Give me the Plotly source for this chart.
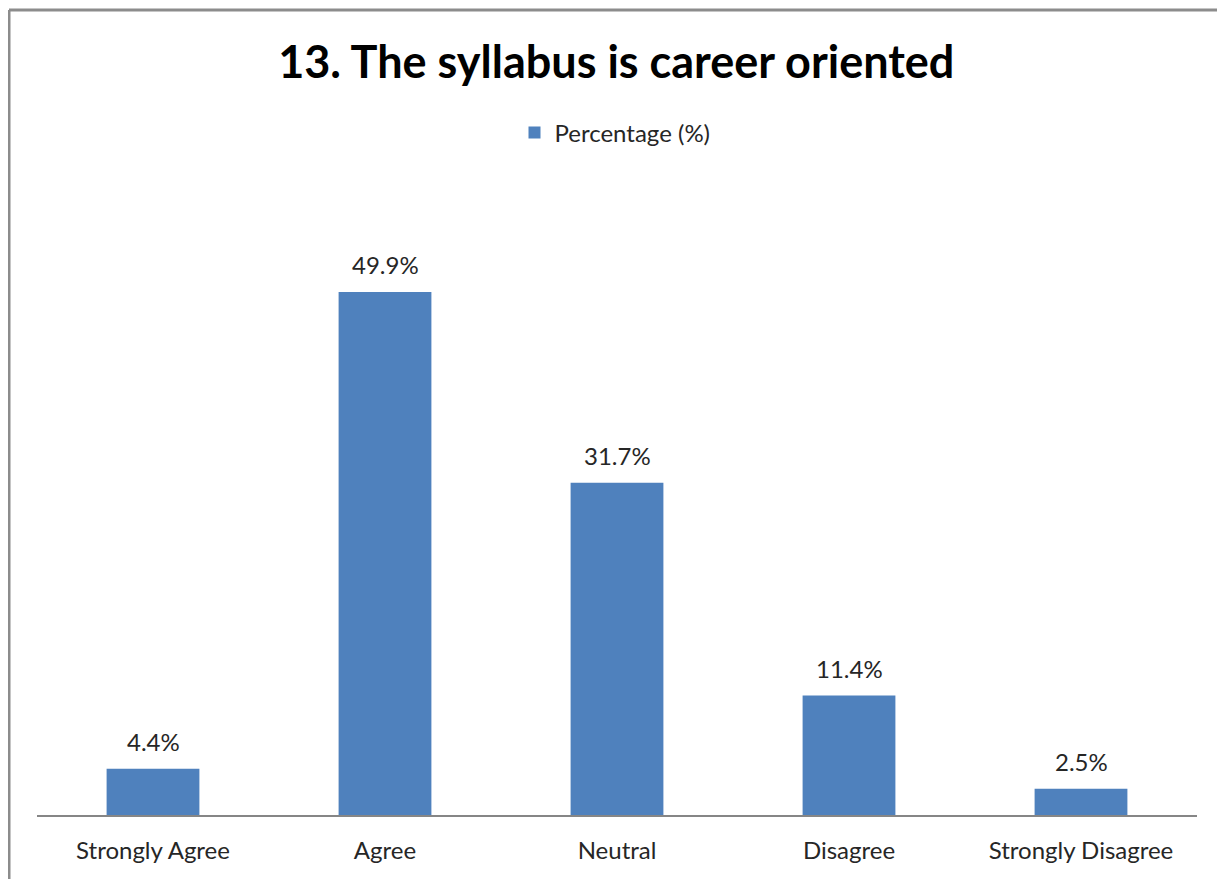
import plotly.graph_objects as go

categories = ["Strongly Agree", "Agree", "Neutral", "Disagree", "Strongly Disagree"]
percentages = [4.4, 49.9, 31.7, 11.4, 2.5]
labels = ["4.4%", "49.9%", "31.7%", "11.4%", "2.5%"]

# page body has an 8px margin, so work in figure pixels (= screen - 8)
W, H = 1225, 879
left, right, top, bottom = 29, 36, 178, 72
pw = W - left - right
ph = H - top - bottom

def px_x(x):
    return (x - left) / pw

def px_y(y):
    return (H - bottom - y) / ph

fig = go.Figure()
fig.add_trace(go.Bar(x=categories, y=percentages, name="Percentage (%)",
                     marker=dict(color="#4F81BD", line=dict(width=0))))

for c, v, t in zip(categories, percentages, labels):
    fig.add_annotation(x=c, y=v, text=t, showarrow=False, yanchor="middle",
                       yshift=27, font=dict(size=24, color="#262626"))

# chart frame
fig.add_shape(type="line", xref="paper", yref="paper",
              x0=px_x(1), x1=px_x(1216), y0=px_y(2), y1=px_y(2),
              line=dict(color="#8C8C8C", width=3))
fig.add_shape(type="line", xref="paper", yref="paper",
              x0=px_x(1), x1=px_x(1), y0=px_y(2), y1=px_y(890),
              line=dict(color="#8C8C8C", width=3))
fig.add_shape(type="line", xref="paper", yref="paper",
              x0=px_x(1216), x1=px_x(1216), y0=px_y(2), y1=px_y(890),
              line=dict(color="#BFBFBF", width=1))

fig.update_layout(
    width=W, height=H,
    margin=dict(l=left, r=right, t=top, b=bottom),
    paper_bgcolor="white", plot_bgcolor="white",
    font=dict(family="Lato", color="#262626"),
    title=dict(text="<b>13. The syllabus is career oriented</b>",
               x=px_x(605), xanchor="center", y=1 - 54 / H, yanchor="middle",
               font=dict(size=45, color="black")),
    showlegend=True,
    legend=dict(orientation="h", x=px_x(607), xanchor="center",
                y=px_y(125), yanchor="middle", font=dict(size=24),
                itemwidth=30),
    bargap=0.6,
)
fig.update_xaxes(showline=True, linecolor="#868686", linewidth=1.5,
                 ticks="", tickfont=dict(size=24, color="#262626"),
                 ticklabelstandoff=13, showgrid=False)
fig.update_yaxes(range=[0, 60], visible=False, showgrid=False)

fig.write_html("out.html")
